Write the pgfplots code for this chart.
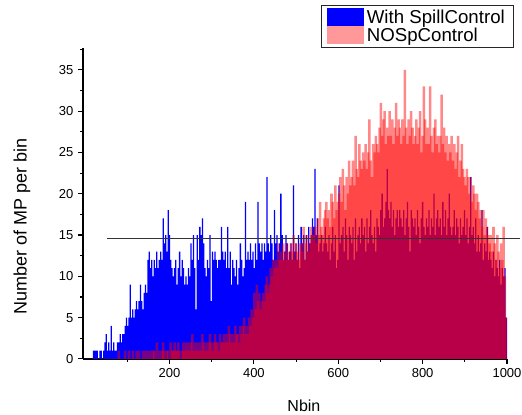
\documentclass[border=0pt]{standalone}
\usepackage{pgfplots}
\pgfplotsset{compat=1.18}
\usepackage{fontspec}
\setmainfont{Liberation Sans}
\begin{document}
\begin{tikzpicture}
\begin{axis}[
  scale only axis, width=318pt, height=233pt,
  xmin=-5, xmax=1000, ymin=0, ymax=37.6,
  axis x line*=bottom, axis y line*=left,
  axis line style={line width=1pt},
  tick align=outside,
  tick style={black, line width=0.8pt},
  major tick length=3.75pt, minor tick length=2.25pt,
  xtick={200,400,600,800,1000}, minor xtick={100,300,500,700,900},
  ytick={0,5,...,35}, minor ytick={2.5,7.5,...,37.5},
  /pgf/number format/assume math mode=true,
  /pgf/number format/1000 sep={},
  ticklabel style={font=\fontsize{9.75}{11}\selectfont},
  xlabel={Nbin}, ylabel={Number of MP per bin},
  xlabel style={font=\fontsize{12}{14}\selectfont, at={(axis description cs:0.521,-0.151)}, anchor=center},
  ylabel style={font=\fontsize{13.5}{16}\selectfont, at={(axis description cs:-0.144,0.425)}, anchor=center},
  clip=false,
  legend style={at={(axis description cs:1.0165,1.1394)}, anchor=north east,
    draw=black!85, line width=0.75pt, font=\fontsize{14}{15}\selectfont,
    inner xsep=4pt, inner ysep=2pt,
    nodes={inner ysep=1pt, inner xsep=2.5pt},
    cells={anchor=west}, row sep=0pt},
  redbar/.style={ybar, bar width=6, bar shift=0pt, fill=red, fill opacity=0.47, draw=none, forget plot},
]
% With SpillControl
\addplot[ybar, bar width=3, bar shift=0pt, fill=blue, draw=none, forget plot] coordinates {
(2,0) (5,0) (8,0) (11,0) (14,0) (17,0) (20,1) (23,1) (26,1) (29,1)
(32,0) (35,1) (38,1) (41,0) (44,1) (47,2) (50,3) (53,1) (56,2) (59,1)
(62,4) (65,1) (68,2) (71,1) (74,1) (77,2) (80,2) (83,3) (86,2) (89,3)
(92,3) (95,4) (98,5) (101,4) (104,5) (107,9) (110,5) (113,6) (116,5) (119,6)
(122,7) (125,6) (128,7) (131,9) (134,7) (137,6) (140,8) (143,9) (146,8) (149,12)
(152,13) (155,11) (158,12) (161,10) (164,12) (167,11) (170,13) (173,11) (176,12) (179,13)
(182,12) (185,17) (188,14) (191,15) (194,13) (197,18) (200,15) (203,12) (206,11) (209,10)
(212,11) (215,12) (218,9) (221,11) (224,13) (227,10) (230,12) (233,11) (236,9) (239,10)
(242,9) (245,11) (248,10) (251,14) (254,12) (257,15) (260,11) (263,6) (266,15) (269,12)
(272,16) (275,15) (278,17) (281,14) (284,11) (287,10) (290,12) (293,11) (296,15) (299,7)
(302,13) (305,12) (308,13) (311,12) (314,11) (317,12) (320,12) (323,16) (326,13) (329,12)
(332,13) (335,11) (338,16) (341,11) (344,13) (347,9) (350,12) (353,11) (356,10) (359,12)
(362,9) (365,11) (368,14) (371,12) (374,10) (377,11) (380,19) (383,12) (386,13) (389,12)
(392,14) (395,12) (398,13) (401,11) (404,14) (407,12) (410,19) (413,14) (416,13) (419,14)
(422,12) (425,14) (428,13) (431,22) (434,14) (437,13) (440,15) (443,14) (446,12) (449,18)
(452,14) (455,15) (458,13) (461,14) (464,20) (467,15) (470,12) (473,13) (476,15) (479,14)
(482,12) (485,13) (488,14) (491,12) (494,21) (497,13) (500,14) (503,12) (506,15) (509,11)
(512,16) (515,14) (518,15) (521,12) (524,15) (527,13) (530,16) (533,14) (536,15) (539,17)
(542,16) (545,23) (548,15) (551,17) (554,13) (557,14) (560,15) (563,13) (566,14) (569,16)
(572,14) (575,13) (578,15) (581,12) (584,14) (587,16) (590,13) (593,15) (596,11) (599,12)
(602,21) (605,14) (608,15) (611,16) (614,13) (617,17) (620,15) (623,12) (626,16) (629,15)
(632,14) (635,16) (638,12) (641,17) (644,13) (647,15) (650,16) (653,14) (656,17) (659,15)
(662,16) (665,13) (668,17) (671,14) (674,16) (677,18) (680,15) (683,14) (686,16) (689,13)
(692,17) (695,16) (698,15) (701,18) (704,20) (707,16) (710,17) (713,19) (716,23) (719,18)
(722,17) (725,19) (728,16) (731,18) (734,15) (737,17) (740,18) (743,16) (746,18) (749,17)
(752,16) (755,18) (758,15) (761,17) (764,19) (767,16) (770,13) (773,18) (776,17) (779,16)
(782,17) (785,15) (788,18) (791,16) (794,14) (797,17) (800,19) (803,16) (806,15) (809,17)
(812,16) (815,18) (818,15) (821,17) (824,16) (827,20) (830,15) (833,17) (836,18) (839,16)
(842,17) (845,15) (848,19) (851,16) (854,18) (857,15) (860,17) (863,20) (866,16) (869,15)
(872,16) (875,18) (878,15) (881,17) (884,16) (887,14) (890,17) (893,15) (896,16) (899,18)
(902,15) (905,17) (908,14) (911,16) (914,22) (917,15) (920,16) (923,14) (926,17) (929,13)
(932,15) (935,13) (938,14) (941,18) (944,12) (947,14) (950,13) (953,16) (956,12) (959,13)
(962,12) (965,11) (968,13) (971,10) (974,12) (977,11) (980,10) (983,12) (986,9) (989,11)
(992,10) (995,11) (998,5)
};
% NOSpControl, bins split in two interleaved halves so that neighbouring bars overlap
\addplot[redbar] coordinates {
(2,0) (8,0) (14,0) (20,0) (26,0) (32,0) (38,0) (44,0) (50,0) (56,0)
(62,0) (68,0) (74,0) (80,1) (86,0) (92,0) (98,0) (104,1) (110,0) (116,0)
(122,1) (128,1) (134,0) (140,0) (146,0) (152,0) (158,0) (164,1) (170,2) (176,1)
(182,1) (188,1) (194,1) (200,0) (206,1) (212,2) (218,1) (224,1) (230,1) (236,1)
(242,1) (248,1) (254,3) (260,2) (266,2) (272,2) (278,3) (284,1) (290,1) (296,3)
(302,1) (308,3) (314,2) (320,3) (326,2) (332,2) (338,2) (344,3) (350,3) (356,4)
(362,3) (368,4) (374,4) (380,3) (386,3) (392,4) (398,5) (404,6) (410,7) (416,6)
(422,8) (428,9) (434,8) (440,11) (446,12) (452,12) (458,14) (464,13) (470,14) (476,12)
(482,13) (488,14) (494,15) (500,14) (506,12) (512,14) (518,16) (524,14) (530,13) (536,16)
(542,15) (548,14) (554,15) (560,16) (566,17) (572,19) (578,18) (584,20) (590,17) (596,18)
(602,20) (608,19) (614,21) (620,22) (626,24) (632,22) (638,21) (644,23) (650,26) (656,23)
(662,24) (668,23) (674,29) (680,22) (686,25) (692,26) (698,28) (704,27) (710,30) (716,28)
(722,30) (728,29) (734,28) (740,27) (746,28) (752,29) (758,35) (764,26) (770,27) (776,28)
(782,27) (788,26) (794,30) (800,27) (806,29) (812,28) (818,33) (824,25) (830,29) (836,27)
(842,27) (848,26) (854,25) (860,24) (866,25) (872,24) (878,23) (884,27) (890,24) (896,23)
(902,21) (908,22) (914,22) (920,21) (926,18) (932,19) (938,18) (944,18) (950,17) (956,15)
(962,15) (968,16) (974,12) (980,13) (986,14) (992,16) (998,5)
};
\addplot[redbar] coordinates {
(5,0) (11,0) (17,0) (23,0) (29,0) (35,0) (41,0) (47,0) (53,0) (59,0)
(65,0) (71,0) (77,0) (83,0) (89,0) (95,1) (101,0) (107,0) (113,1) (119,0)
(125,0) (131,0) (137,1) (143,1) (149,1) (155,1) (161,1) (167,0) (173,0) (179,0)
(185,2) (191,0) (197,1) (203,2) (209,1) (215,1) (221,2) (227,0) (233,2) (239,2)
(245,2) (251,2) (257,1) (263,1) (269,1) (275,1) (281,2) (287,2) (293,2) (299,2)
(305,2) (311,2) (317,1) (323,2) (329,3) (335,3) (341,4) (347,2) (353,2) (359,3)
(365,2) (371,3) (377,5) (383,4) (389,5) (395,6) (401,8) (407,9) (413,8) (419,7)
(425,7) (431,10) (437,9) (443,10) (449,11) (455,11) (461,12) (467,12) (473,13) (479,14)
(485,12) (491,13) (497,12) (503,13) (509,14) (515,13) (521,12) (527,15) (533,14) (539,15)
(545,16) (551,17) (557,19) (563,15) (569,18) (575,17) (581,16) (587,19) (593,21) (599,19)
(605,22) (611,23) (617,18) (623,20) (629,21) (635,24) (641,27) (647,22) (653,24) (659,25)
(665,26) (671,25) (677,24) (683,26) (689,27) (695,25) (701,31) (707,29) (713,26) (719,27)
(725,27) (731,26) (737,31) (743,29) (749,26) (755,27) (761,28) (767,29) (773,30) (779,26)
(785,29) (791,28) (797,25) (803,33) (809,26) (815,26) (821,27) (827,28) (833,26) (839,25)
(845,32) (851,28) (857,27) (863,26) (869,27) (875,26) (881,25) (887,22) (893,26) (899,22)
(905,23) (911,20) (917,19) (923,20) (929,20) (935,17) (941,16) (947,15) (953,16) (959,14)
(965,13) (971,14) (977,15) (983,11) (989,12) (995,10)
};
\addplot[black!80, line width=0.75pt, sharp plot, forget plot] coordinates {(52,14.6) (1031,14.6)};
\addlegendimage{legend image code/.code={\fill[blue] (0pt,-6.4pt) rectangle (27pt,6.4pt);}}
\addlegendentry{With SpillControl}
\addlegendimage{legend image code/.code={\fill[red!40] (0pt,-6.4pt) rectangle (27pt,6.4pt);}}
\addlegendentry{NOSpControl}
\coordinate (bbA) at (rel axis cs:-0.1958,1.1555);
\coordinate (bbB) at (rel axis cs:1.0354,-0.1802);
\end{axis}
\pgfresetboundingbox
\path (bbA) rectangle (bbB);
\end{tikzpicture}
\end{document}
